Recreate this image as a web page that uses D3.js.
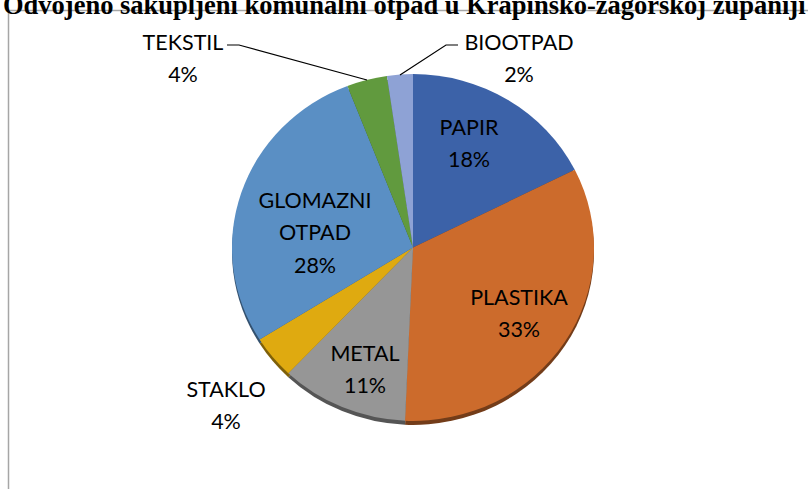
<!DOCTYPE html>
<html>
<head>
<meta charset="utf-8">
<script src="https://cdn.jsdelivr.net/npm/d3@7"></script>
<style>
body{margin:0;background:#fff;}
svg{display:block;}
.lbl{font-family:Lato,"Open Sans",sans-serif;font-size:21.5px;fill:#000;}
</style>
</head>
<body>
<script>
var categories = ["PAPIR", "PLASTIKA", "METAL", "STAKLO", "GLOMAZNI OTPAD", "TEKSTIL", "BIOOTPAD"];
var values = [17.6, 33.1, 11.4, 4.0, 28.0, 3.6, 2.3];
var colors = ["#3c62a8", "#cc6b2c", "#969696", "#dfaa10", "#5a8fc4", "#619a3e", "#8ea2d5"];
var title = "Odvojeno sakupljeni komunalni otpad u Krapinsko-zagorskoj županiji";

var width = 808, height = 489;
var cx = 413, cy = 247.5, r = 181, tilt = 0.958, depth = 4;

var data = categories.map(function(c, i) { return {name: c, value: values[i], color: colors[i]}; });
var total = d3.sum(values);

var svg = d3.select("body").append("svg")
    .attr("width", width)
    .attr("height", height);

// chart frame
svg.append("rect")
    .attr("x", 8.5).attr("y", 10.5)
    .attr("width", 820).attr("height", 500)
    .attr("fill", "#fff")
    .attr("stroke", "#a6a6a6")
    .attr("stroke-width", 1.5);

// title is cropped by the top of the picture, as in the original
svg.append("text")
    .attr("x", 3).attr("y", 14)
    .style("font-family", "'Liberation Serif','Times New Roman',serif")
    .style("font-weight", "bold")
    .style("font-size", "26.5px")
    .text(title);

var pie = d3.pie().sort(null).value(function(d) { return d.value; });
var arcs = pie(data);
var arc = d3.arc().innerRadius(0).outerRadius(r);

// side of the 3d pie
svg.append("g")
    .attr("transform", "translate(" + cx + "," + (cy + depth) + ") scale(1," + tilt + ")")
  .selectAll("path")
    .data(arcs)
  .enter().append("path")
    .attr("d", arc)
    .attr("fill", function(d) { return d3.color(d.data.color).darker(1.6); });

svg.append("g")
    .attr("transform", "translate(" + cx + "," + cy + ") scale(1," + tilt + ")")
  .selectAll("path")
    .data(arcs)
  .enter().append("path")
    .attr("d", arc)
    .attr("fill", function(d) { return d.data.color; });

// label positions (line centres)
var labelPos = {
  "PAPIR": [469, 127],
  "PLASTIKA": [519, 297],
  "METAL": [365, 353],
  "STAKLO": [226, 389],
  "GLOMAZNI OTPAD": [315, 200],
  "TEKSTIL": [183, 42],
  "BIOOTPAD": [519, 42]
};

arcs.forEach(function(d) {
  var name = d.data.name;
  var lines = name === "GLOMAZNI OTPAD" ? ["GLOMAZNI", "OTPAD"] : [name];
  lines.push(Math.round(d.data.value / total * 100) + "%");
  var p = labelPos[name];
  var t = svg.append("text").attr("class", "lbl").attr("text-anchor", "middle");
  lines.forEach(function(l, i) {
    t.append("tspan").attr("x", p[0]).attr("y", p[1] + i * 32.5).attr("dy", "0.35em").text(l);
  });
});

// leader lines
var leaders = [
  [[227, 45], [239, 45], [367, 80]],
  [[458, 45], [446, 45], [400, 75]]
];
svg.selectAll(".leader")
    .data(leaders)
  .enter().append("path")
    .attr("class", "leader")
    .attr("d", d3.line())
    .attr("fill", "none")
    .attr("stroke", "#000")
    .attr("stroke-width", 1.2);
</script>
</body>
</html>
